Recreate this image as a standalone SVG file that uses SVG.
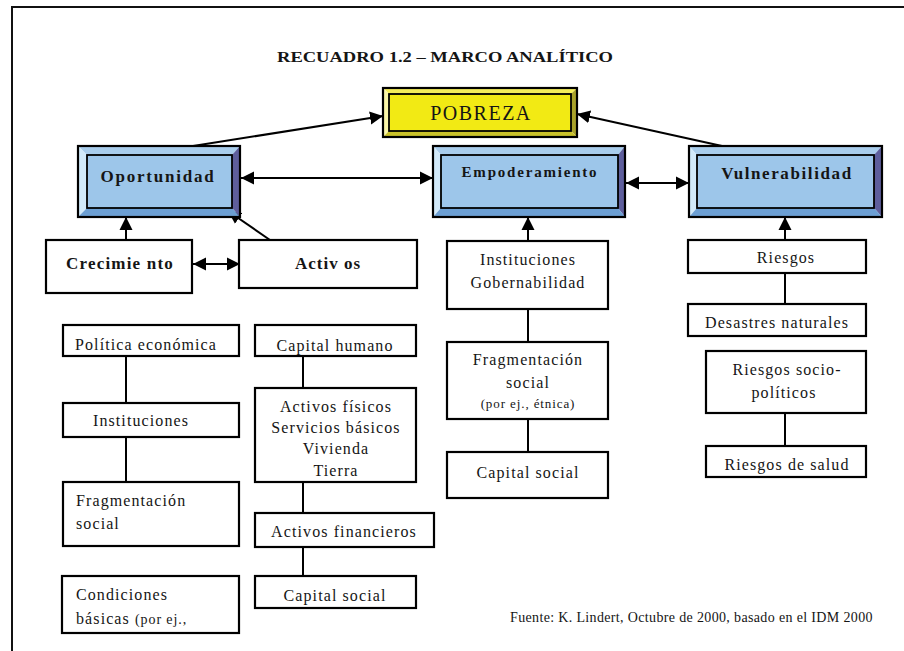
<svg xmlns="http://www.w3.org/2000/svg" width="904" height="651" viewBox="0 0 904 651">
<defs>
<marker id="ah" markerUnits="userSpaceOnUse" markerWidth="14" markerHeight="14" refX="13" refY="6.5" orient="auto-start-reverse" viewBox="0 0 14 13">
<path d="M0,0 L13,6.5 L0,13 z" fill="#000"/>
</marker>
</defs>
<style>
text{font-family:'Liberation Serif',serif;fill:#151515;}
.n{font-size:16px;letter-spacing:1.1px;}
.b{font-weight:bold;}
.box{fill:#fff;stroke:#000;stroke-width:2.2;}
.edge{stroke:#000;stroke-width:2;fill:none;}
.arr{marker-end:url(#ah);}
.dbl{marker-start:url(#ah);marker-end:url(#ah);}
.ol{fill:none;stroke:#000;stroke-width:2.2;}
.il{fill:none;stroke:#000;stroke-width:1.8;}
.bf{fill:#9DC6EA;}.bt{fill:#A9CDEC;}.bl{fill:#D2EAFA;}.br{fill:#5E5E9C;}.bb{fill:#6C9FD3;}
.yf{fill:#F2EA14;}.yt{fill:#F5EE5A;}.yl{fill:#FAF6A8;}.yr{fill:#A9A22A;}.yb{fill:#C9C12A;}
</style>
<rect x="0" y="0" width="904" height="651" fill="#fff"/>
<path d="M12,651 L12,7 L904,7" fill="none" stroke="#111" stroke-width="2"/>
<g font-family="'Liberation Serif', serif">
<text class="b" x="445" y="62" text-anchor="middle" font-size="15.5" textLength="336" lengthAdjust="spacingAndGlyphs">RECUADRO 1.2 – MARCO ANALÍTICO</text>

<g id="connectors">
<line class="edge arr" x1="193" y1="146" x2="383" y2="116"/>
<line class="edge arr" x1="722" y1="146" x2="577" y2="114"/>
<line class="edge dbl" x1="241" y1="178" x2="433" y2="178"/>
<line class="edge dbl" x1="626" y1="183" x2="689" y2="183"/>
<line class="edge arr" x1="126" y1="240" x2="126" y2="217"/>
<line class="edge arr" x1="270" y1="240" x2="228" y2="211"/>
<line class="edge dbl" x1="193" y1="264" x2="240" y2="264" stroke-width="3"/>
<line class="edge arr" x1="528" y1="241" x2="528" y2="217"/>
<line class="edge arr" x1="785" y1="240" x2="785" y2="217"/>
<line class="edge" x1="126" y1="356" x2="126" y2="403"/>
<line class="edge" x1="126" y1="437" x2="126" y2="482"/>
<line class="edge" x1="303" y1="356" x2="303" y2="388"/>
<line class="edge" x1="303" y1="482" x2="303" y2="513"/>
<line class="edge" x1="303" y1="547" x2="303" y2="576"/>
<line class="edge" x1="528" y1="309" x2="528" y2="342"/>
<line class="edge" x1="528" y1="419" x2="528" y2="452"/>
<line class="edge" x1="785" y1="273" x2="785" y2="304"/>
<line class="edge" x1="785" y1="413" x2="785" y2="446"/>
</g>

<g id="pobreza">
<polygon class="yt" points="383,88 577,88 571,94 389,94"/>
<polygon class="yl" points="383,88 389,94 389,131 383,137"/>
<polygon class="yr" points="577,88 577,137 571,131 571,94"/>
<polygon class="yb" points="383,137 389,131 571,131 577,137"/>
<rect class="yf" x="389" y="94" width="182" height="37"/>
<rect class="il" x="389" y="94" width="182" height="37"/>
<rect class="ol" x="383" y="88" width="194" height="49"/>
<text x="481" y="120" text-anchor="middle" font-size="20" letter-spacing="1.5">POBREZA</text>
</g>

<g id="oportunidad">
<polygon class="bt" points="78,146 240,146 232,155 87,155"/>
<polygon class="bl" points="78,146 87,155 87,208 78,217"/>
<polygon class="br" points="240,146 240,217 232,208 232,155"/>
<polygon class="bb" points="78,217 87,208 232,208 240,217"/>
<rect class="bf" x="87" y="155" width="145" height="53"/>
<rect class="il" x="87" y="155" width="145" height="53"/>
<rect class="ol" x="78" y="146" width="162" height="71"/>
<text class="b" x="158" y="182" text-anchor="middle" font-size="17" letter-spacing="1.8">Oportunidad</text>
</g>

<g id="empoderamiento">
<polygon class="bt" points="433,146 625,146 618,155 441,155"/>
<polygon class="bl" points="433,146 441,155 441,208 433,217"/>
<polygon class="br" points="625,146 625,217 618,208 618,155"/>
<polygon class="bb" points="433,217 441,208 618,208 625,217"/>
<rect class="bf" x="441" y="155" width="177" height="53"/>
<rect class="il" x="441" y="155" width="177" height="53"/>
<rect class="ol" x="433" y="146" width="192" height="71"/>
<text class="b" x="530" y="177" text-anchor="middle" font-size="15" letter-spacing="1.8">Empoderamiento</text>
</g>

<g id="vulnerabilidad">
<polygon class="bt" points="689,146 882,146 874,155 697,155"/>
<polygon class="bl" points="689,146 697,155 697,208 689,217"/>
<polygon class="br" points="882,146 882,217 874,208 874,155"/>
<polygon class="bb" points="689,217 697,208 874,208 882,217"/>
<rect class="bf" x="697" y="155" width="177" height="53"/>
<rect class="il" x="697" y="155" width="177" height="53"/>
<rect class="ol" x="689" y="146" width="193" height="71"/>
<text class="b" x="787" y="179" text-anchor="middle" font-size="17" letter-spacing="1.6">Vulnerabilidad</text>
</g>

<g id="crecimiento">
<rect class="box" x="46" y="240" width="146" height="53"/>
<text class="b" x="120" y="269" text-anchor="middle" font-size="17" letter-spacing="1.2">Crecimie nto</text>
</g>
<g id="activos">
<rect class="box" x="239" y="240" width="178" height="48"/>
<text class="b" x="328" y="269" text-anchor="middle" font-size="17" letter-spacing="1">Activ os</text>
</g>

<g id="politica">
<rect class="box" x="63" y="325" width="176" height="31"/>
<text class="n" x="146" y="350" text-anchor="middle">Política económica</text>
</g>
<g id="instituciones-l">
<rect class="box" x="63" y="403" width="176" height="34"/>
<text class="n" x="141" y="426" text-anchor="middle">Instituciones</text>
</g>
<g id="fragmentacion-l">
<rect class="box" x="63" y="482" width="176" height="64"/>
<text class="n" x="76" y="506">Fragmentación</text>
<text class="n" x="76" y="529">social</text>
</g>
<g id="condiciones">
<rect class="box" x="62" y="576" width="177" height="57"/>
<text class="n" x="76" y="600">Condiciones</text>
<text class="n" x="76" y="624">básicas <tspan font-size="14" letter-spacing="0.9">(por ej.,</tspan></text>
</g>

<g id="capital-humano">
<rect class="box" x="255" y="325" width="161" height="31"/>
<text class="n" x="335" y="351" text-anchor="middle">Capital humano</text>
</g>
<g id="activos-fisicos">
<rect class="box" x="255" y="388" width="161" height="94"/>
<text class="n" x="336" y="412" text-anchor="middle">Activos físicos</text>
<text class="n" x="336" y="433" text-anchor="middle">Servicios básicos</text>
<text class="n" x="336" y="454" text-anchor="middle">Vivienda</text>
<text class="n" x="336" y="476" text-anchor="middle">Tierra</text>
</g>
<g id="activos-financieros">
<rect class="box" x="255" y="513" width="179" height="34"/>
<text class="n" x="344" y="537" text-anchor="middle">Activos financieros</text>
</g>
<g id="capital-social-l">
<rect class="box" x="255" y="576" width="161" height="32"/>
<text class="n" x="335" y="601" text-anchor="middle">Capital social</text>
</g>

<g id="instituciones-gob">
<rect class="box" x="447" y="241" width="161" height="68"/>
<text class="n" x="528" y="265" text-anchor="middle">Instituciones</text>
<text class="n" x="528" y="288" text-anchor="middle">Gobernabilidad</text>
</g>
<g id="fragmentacion-r">
<rect class="box" x="447" y="342" width="161" height="77"/>
<text class="n" x="528" y="365" text-anchor="middle">Fragmentación</text>
<text class="n" x="528" y="388" text-anchor="middle">social</text>
<text x="528" y="408" text-anchor="middle" font-size="13" letter-spacing="0.9">(por ej., étnica)</text>
</g>
<g id="capital-social-r">
<rect class="box" x="447" y="452" width="161" height="46"/>
<text class="n" x="528" y="478" text-anchor="middle">Capital social</text>
</g>

<g id="riesgos">
<rect class="box" x="688" y="240" width="178" height="33"/>
<text class="n" x="786" y="263" text-anchor="middle">Riesgos</text>
</g>
<g id="desastres">
<rect class="box" x="688" y="304" width="178" height="32"/>
<text class="n" x="777" y="328" text-anchor="middle">Desastres naturales</text>
</g>
<g id="riesgos-socio">
<rect class="box" x="706" y="351" width="160" height="62"/>
<text class="n" x="787" y="375" text-anchor="middle">Riesgos socio-</text>
<text class="n" x="784" y="398" text-anchor="middle">políticos</text>
</g>
<g id="riesgos-salud">
<rect class="box" x="706" y="446" width="160" height="31"/>
<text class="n" x="787" y="470" text-anchor="middle">Riesgos de salud</text>
</g>

<text x="510" y="622" font-size="14" letter-spacing="0.35" fill="#222">Fuente: K. Lindert, Octubre de 2000, basado en el IDM 2000</text>
</g>
</svg>
